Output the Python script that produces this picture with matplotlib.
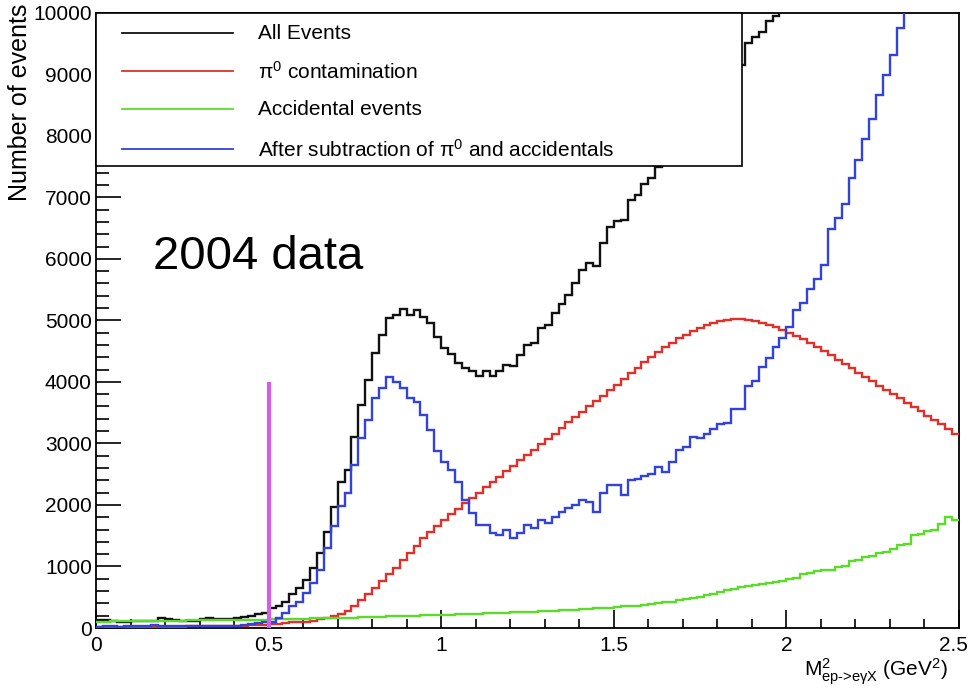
import numpy as np
import matplotlib
matplotlib.use("Agg")
import matplotlib.pyplot as plt
from matplotlib.patches import Rectangle
from matplotlib.ticker import MultipleLocator
from matplotlib.transforms import ScaledTranslation

# histogram binning: 125 bins of 0.02 GeV^2 from 0 to 2.5
bin_edges = np.linspace(0.0, 2.5, 126)

# All Events (values above 10000 are off the plot)
all_events = [
    130, 125, 110, 100, 105, 110, 115, 120, 115, 155, 150, 130, 120, 115, 120, 150, 160, 140, 140, 145, 170, 185, 200, 225, 245,
    330, 350, 420, 550, 650, 780, 975, 1220, 1560, 1970, 2370, 2570, 3110, 3630, 4030, 4470, 4760, 5040, 5090, 5190, 5090, 5170, 5060, 4960, 4730,
    4550, 4450, 4300, 4220, 4170, 4090, 4170, 4090, 4170, 4280, 4250, 4440, 4600, 4630, 4870, 4920, 5120, 5270, 5420, 5600, 5820, 5930, 5890, 6250, 6520,
    6610, 6630, 6950, 7040, 7210, 7310, 7490, 7620, 7750, 7880, 8000, 8120, 8250, 8380, 8520, 8650, 8800, 8950, 9150, 9500, 9600, 9680, 9860, 9940, 10080,
    10470, 10700, 10900, 11000, 11150, 11330, 11650, 11800, 12000, 12500, 12860, 13200, 13500, 13900, 14100, 14410, 14900, 15300, 15700, 16100, 16430, 16900, 17300, 17700, 18100,
]

# pi0 contamination
pi0 = [
    20, 20, 20, 20, 20, 20, 20, 20, 22, 22, 22, 24, 24, 25, 26, 27, 28, 30, 32, 34, 36, 38, 42, 48, 55,
    60, 70, 80, 90, 100, 105, 120, 140, 160, 190, 230, 280, 360, 450, 560, 650, 760, 870, 980, 1100, 1220, 1340, 1460, 1560, 1660,
    1760, 1850, 1940, 2025, 2110, 2200, 2290, 2375, 2460, 2550, 2640, 2725, 2810, 2900, 2990, 3075, 3160, 3250, 3340, 3425, 3510, 3600, 3690, 3775, 3860,
    3950, 4050, 4140, 4230, 4320, 4410, 4490, 4570, 4640, 4710, 4770, 4830, 4880, 4920, 4960, 4990, 5010, 5020, 5020, 5010, 4990, 4960, 4930, 4890, 4845,
    4790, 4740, 4690, 4630, 4570, 4500, 4430, 4360, 4290, 4220, 4150, 4080, 4010, 3940, 3870, 3800, 3730, 3660, 3590, 3520, 3450, 3380, 3310, 3240, 3160,
]

# accidental events
accidentals = [
    105, 105, 108, 110, 110, 112, 112, 115, 115, 118, 118, 120, 120, 122, 122, 125, 125, 128, 128, 130, 130, 132, 135, 135, 138,
    140, 142, 145, 148, 150, 152, 155, 158, 160, 163, 165, 168, 170, 175, 178, 180, 185, 188, 190, 195, 198, 200, 205, 208, 212,
    215, 218, 222, 225, 230, 232, 236, 240, 244, 248, 252, 256, 260, 265, 270, 275, 280, 286, 292, 298, 304, 310, 318, 325, 333,
    345, 350, 355, 362, 370, 385, 400, 415, 430, 450, 470, 490, 505, 530, 560, 590, 610, 630, 660, 680, 695, 710, 725, 740, 760,
    790, 805, 880, 900, 925, 935, 940, 990, 1000, 1090, 1100, 1155, 1165, 1220, 1230, 1290, 1350, 1365, 1510, 1530, 1580, 1595, 1690, 1810, 1750,
]

# after subtraction of pi0 and accidentals
subtracted = [
    20, 30, 25, 20, 30, 25, 30, 35, 45, 40, 30, 25, 30, 35, 30, 25, 30, 35, 30, 35, 40, 50, 60, 80, 95,
    100, 160, 240, 350, 430, 565, 730, 945, 1295, 1650, 1975, 2190, 2650, 3085, 3380, 3730, 3900, 4085, 4005, 3900, 3730, 3680, 3460, 3220, 2870,
    2700, 2570, 2380, 2080, 1865, 1675, 1675, 1540, 1510, 1595, 1460, 1540, 1675, 1620, 1755, 1700, 1810, 1890, 1945, 2000, 2080, 2055, 1890, 2200, 2325,
    2320, 2160, 2400, 2420, 2470, 2500, 2620, 2530, 2690, 2900, 2940, 3100, 3080, 3160, 3240, 3310, 3330, 3560, 3560, 3930, 4020, 4240, 4380, 4560, 4720,
    4890, 5170, 5290, 5510, 5670, 5900, 6490, 6660, 6890, 7310, 7610, 7940, 8270, 8660, 8990, 9320, 9750, 10200, 10600, 11000, 11400, 11800, 12200, 12600, 13000,
]

cut_x = 0.5
cut_height = 4000

labels = ["All Events", r"$\mathrm{\pi}^{0}$ contamination", "Accidental events",
          r"After subtraction of $\mathrm{\pi}^{0}$ and accidentals"]
colors = ["#111111", "#e0302c", "#5cdc2a", "#3342d8"]

plt.rcParams['font.family'] = ['Liberation Sans', 'DejaVu Sans']
plt.rcParams['mathtext.fontset'] = 'custom'
plt.rcParams['mathtext.rm'] = 'Liberation Sans'
plt.rcParams['mathtext.it'] = 'Liberation Sans:italic'
plt.rcParams['mathtext.bf'] = 'Liberation Sans:bold'

fig = plt.figure(figsize=(9.71, 6.88), dpi=100)
ax = fig.add_axes([96 / 971, 60 / 688, 863 / 971, 615.3 / 688])

series = [all_events, pi0, accidentals, subtracted]
for vals, c, z in zip(series, colors, [3, 3, 3, 4]):
    ax.stairs(vals, bin_edges, baseline=None, color=c, lw=1.7, zorder=z)

ax.vlines(cut_x, 0, cut_height, color="#d35ee8", lw=3, zorder=5)

ax.set_xlim(0, 2.5)
ax.set_ylim(0, 10000)
ax.xaxis.set_major_locator(MultipleLocator(0.5))
ax.xaxis.set_minor_locator(MultipleLocator(0.1))
ax.yaxis.set_major_locator(MultipleLocator(1000))
ax.yaxis.set_minor_locator(MultipleLocator(200))
ax.set_xticks([0, 0.5, 1, 1.5, 2, 2.5], ["0", "0.5", "1", "1.5", "2", "2.5"])
ax.tick_params(axis='both', which='both', direction='in', width=1.2, labelsize=15,
               top=False, right=False)
ax.tick_params(axis='y', which='major', length=18, pad=3)
ax.tick_params(axis='y', which='minor', length=9.5)
ax.tick_params(axis='x', which='major', length=13, pad=6)
ax.tick_params(axis='x', which='minor', length=6.5)
# last x label sits a little to the left, as in ROOT
last = ax.xaxis.get_major_ticks()[-1].label1
last.set_transform(last.get_transform() + ScaledTranslation(-4 / 72, 0, fig.dpi_scale_trans))
for s in ax.spines.values():
    s.set_linewidth(1.3)

# legend box drawn in axes fraction
ax.add_patch(Rectangle((0, 0.7515), 0.7486, 0.2485, transform=ax.transAxes,
                       facecolor="white", edgecolor="black", lw=1.2, zorder=10,
                       clip_on=False))
row_y = [0.967, 0.9045, 0.8428, 0.7777]
for ry, c, lab in zip(row_y, colors, labels):
    ax.plot([0.0301, 0.1587], [ry, ry], transform=ax.transAxes, color=c, lw=1.3,
            zorder=11)
    ax.text(0.1877, ry, lab, transform=ax.transAxes, fontsize=15, va='center',
            zorder=11)

ax.text(0.066, 0.603, "2004 data", transform=ax.transAxes, fontsize=34, va='center')

fig.text(20 / 971, 1 - 4 / 688, "Number of events", rotation=90, fontsize=18,
         ha='center', va='top')
fig.text(948 / 971, 1 - 672 / 688,
         r"$\mathrm{M}^{2}_{\text{ep->e}\mathrm{\gamma}\text{X}}$ (GeV$^{2}$)",
         fontsize=15, ha='right', va='center')

fig.savefig("out.png", dpi=100)
